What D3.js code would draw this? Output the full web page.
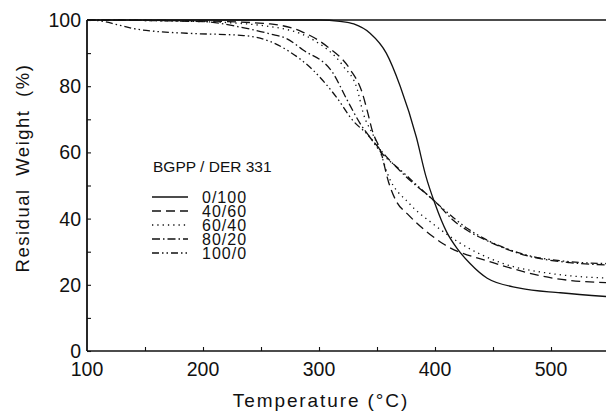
<!DOCTYPE html>
<html lang="en">
<head>
<meta charset="UTF-8">
<title>TGA curves</title>
<style>
  body { margin: 0; background: #fff; }
  svg text { font-family: "Liberation Sans", "DejaVu Sans", sans-serif; fill: #111; }
</style>
</head>
<body>
<svg id="chart" width="606" height="415"></svg>
<script src="https://cdn.jsdelivr.net/npm/d3@7"></script>
<script>
// series data: temperature (°C) and residual weight (%)
const labels = ["0/100", "40/60", "60/40", "80/20", "100/0"];

const t0 = [100, 300, 318, 330, 344, 358, 370, 384, 392, 400, 410, 419, 430, 445, 473, 508, 550];
const w0 = [100, 100, 99.6, 98.8, 96, 90, 80, 64.5, 53, 44.5, 36, 31, 26.5, 22, 19, 17.6, 16.4];

const t40 = [100, 200, 258, 285, 307, 327, 337, 342, 346, 353, 360, 367, 376, 393, 407, 450, 502, 550];
const w40 = [100, 99.7, 98.8, 96.5, 92, 85, 78.3, 72, 66.5, 60.6, 51, 45, 41.5, 36, 32.4, 26.7, 22, 20.6];

const t60 = [100, 200, 258, 295, 321, 333, 338, 347, 352, 359, 378, 398, 422, 459, 502, 550];
const w60 = [100, 99.5, 98, 94, 86, 79, 72, 65, 61, 53.6, 44.5, 38.5, 32.5, 26.4, 23.3, 22];

const t80 = [100, 200, 230, 258, 272, 286, 312, 324, 335, 350, 374, 402, 416, 428, 445, 479, 516, 550];
const w80 = [100, 99.5, 98, 95.8, 94.4, 91, 84, 76, 69, 62, 53, 44.5, 39.4, 36.4, 33.3, 28.8, 26.7, 26];

const t100 = [100, 110, 126, 140, 158, 186, 235, 258, 272, 295, 315, 329, 344, 350, 374, 402, 428, 445, 479, 516, 550];
const w100 = [100, 99.8, 98.6, 97.4, 96.6, 96, 95.3, 93.5, 91, 84.8, 76.7, 69.7, 64.5, 61.5, 53.5, 44.5, 37, 33.5, 29, 27, 26.4];

const xTicks = [100, 200, 300, 400, 500];
const yTicks = [0, 20, 40, 60, 80, 100];

const dashes = ["", "9,5", "1.3,4", "8,3,1.5,3", "7,3,1.5,3,1.5,3"];

const series = [[t0, w0], [t40, w40], [t60, w60], [t80, w80], [t100, w100]].map(([t, w], i) => ({
  label: labels[i],
  dash: dashes[i],
  points: t.map((d, j) => ({ t: d, w: w[j] }))
}));

const svg = d3.select("#chart");
const mLeft = 87, mTop = 20, mBottom = 351;

const x = d3.scaleLinear().domain([100, 550]).range([mLeft, mLeft + 4.5 * 116]);
const y = d3.scaleLinear().domain([0, 100]).range([mBottom, mTop]);

// frame: left, bottom, top
svg.append("line").attr("x1", mLeft).attr("x2", mLeft).attr("y1", mTop).attr("y2", mBottom)
  .attr("stroke", "#111").attr("stroke-width", 1.8);
svg.append("line").attr("x1", mLeft).attr("x2", 606).attr("y1", mBottom).attr("y2", mBottom)
  .attr("stroke", "#111").attr("stroke-width", 1.6);
svg.append("line").attr("x1", mLeft).attr("x2", 606).attr("y1", mTop).attr("y2", mTop)
  .attr("stroke", "#111").attr("stroke-width", 1.6);

// ticks (inward)
const yAxis = d3.axisRight(y).tickValues(d3.range(0, 101, 10)).tickSize(4).tickFormat("");
svg.append("g").attr("transform", `translate(${mLeft},0)`).call(yAxis)
  .call(g => g.select(".domain").remove())
  .call(g => g.selectAll("line").attr("stroke", "#111").attr("stroke-width", 1.1));
const xAxis = d3.axisTop(x).tickValues(d3.range(150, 551, 50)).tickSize(4).tickFormat("");
svg.append("g").attr("transform", `translate(0,${mBottom})`).call(xAxis)
  .call(g => g.select(".domain").remove())
  .call(g => g.selectAll("line").attr("stroke", "#111").attr("stroke-width", 1.1));

// tick labels
svg.append("g").selectAll("text").data(yTicks).join("text")
  .attr("x", mLeft - 6).attr("y", d => y(d) + 7)
  .attr("text-anchor", "end").attr("font-size", 19.5)
  .text(d => d);
svg.append("g").selectAll("text").data(xTicks).join("text")
  .attr("x", d => x(d)).attr("y", mBottom + 25)
  .attr("text-anchor", "middle").attr("font-size", 19.5)
  .text(d => d);

// axis titles
svg.append("text").attr("x", 321).attr("y", 407).attr("text-anchor", "middle")
  .attr("font-size", 19).attr("letter-spacing", 1.9).text("Temperature (°C)");
svg.append("text").attr("transform", "translate(29,168) rotate(-90)").attr("text-anchor", "middle")
  .attr("font-size", 18.5).attr("letter-spacing", 1.5).attr("word-spacing", 6)
  .text("Residual Weight (%)");

// curves
const line = d3.line().x(d => x(d.t)).y(d => y(d.w)).curve(d3.curveMonotoneX);
const plot = svg.append("g");
plot.selectAll("path").data(series).join("path")
  .attr("d", d => line(d.points))
  .attr("fill", "none").attr("stroke", "#111").attr("stroke-width", 1.3)
  .attr("stroke-dasharray", d => d.dash);

// legend
const lg = svg.append("g").attr("transform", "translate(152,0)");
lg.append("text").attr("x", 1).attr("y", 172).attr("font-size", 15.5).text("BGPP / DER 331");
const item = lg.selectAll("g.item").data(series).join("g").attr("class", "item")
  .attr("transform", (d, i) => `translate(0,${197 + i * 14})`);
item.append("line").attr("x1", 0).attr("x2", 36).attr("y1", 0).attr("y2", 0)
  .attr("stroke", "#111").attr("stroke-width", 1.3).attr("stroke-dasharray", d => d.dash);
item.append("text").attr("x", 50).attr("y", 6).attr("font-size", 16).attr("letter-spacing", 1).text(d => d.label);
</script>
</body>
</html>
